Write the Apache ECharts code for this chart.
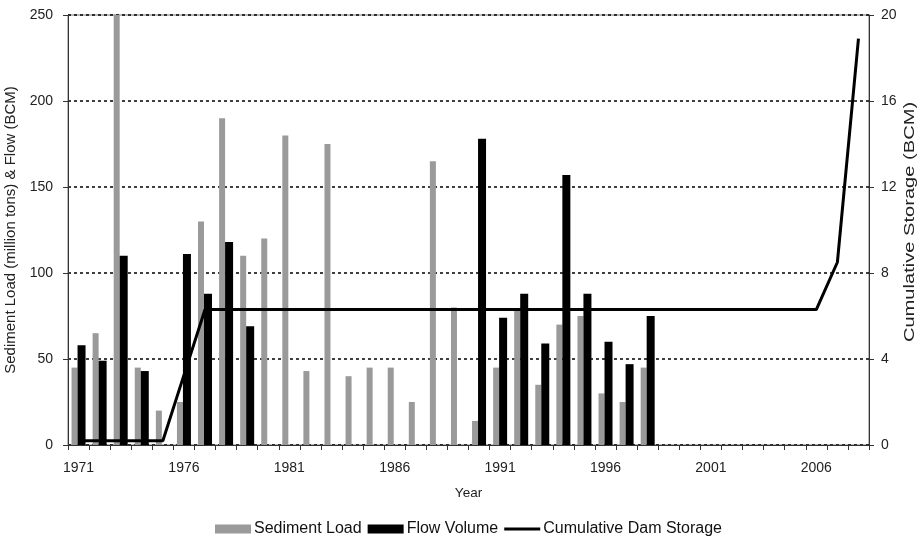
<!DOCTYPE html>
<html>
<head>
<meta charset="utf-8">
<script src="https://cdn.jsdelivr.net/npm/echarts@6/dist/echarts.min.js"></script>
<style>
  html, body { margin: 0; padding: 0; background: #fff; }
  #chart { width: 917px; height: 538px; }
</style>
</head>
<body>
<div id="chart"></div>
<script>
// years 1971 - 2008
var years = [];
for (var y = 1971; y <= 2008; y++) years.push(String(y));

// sediment load (million tons), 1971-1998
var sediment = [45, 65, 250, 45, 20, 25, 130, 190, 110, 120,
                180, 43, 175, 40, 45, 45, 25, 165, 80, 14,
                45, 79, 35, 70, 75, 30, 25, 45,
                null, null, null, null, null, null, null, null, null, null];

// flow volume (BCM)
var flow = [58, 49, 110, 43, null, 111, 88, 118, 69, null,
            null, null, null, null, null, null, null, null, null, 178,
            74, 88, 59, 157, 88, 60, 47, 75,
            null, null, null, null, null, null, null, null, null, null];

// cumulative dam storage (BCM)
var storage = [0.2, 0.2, 0.2, 0.2, 0.2, 3.25, 6.3, 6.3, 6.3, 6.3,
               6.3, 6.3, 6.3, 6.3, 6.3, 6.3, 6.3, 6.3, 6.3, 6.3,
               6.3, 6.3, 6.3, 6.3, 6.3, 6.3, 6.3, 6.3, 6.3, 6.3,
               6.3, 6.3, 6.3, 6.3, 6.3, 6.3, 8.5, 18.9];

var chart = echarts.init(document.getElementById('chart'));
var font = 'Liberation Sans, Arial, sans-serif';
var dotted = { color: '#000', width: 1.5, type: [3, 3] };

var option = {
  animation: false,
  textStyle: { fontFamily: font },
  grid: {
    left: 68, right: 48, top: 15, bottom: 93,
    outerBoundsMode: 'none',
    show: true, borderColor: '#777', borderWidth: 1
  },
  legend: {
    top: 521,
    left: 215,
    padding: 0,
    itemGap: 6,
    itemWidth: 36,
    itemHeight: 9,
    textStyle: { fontSize: 16, color: '#111', fontFamily: font, padding: [0, 0, 0, -2] },
    data: [
      { name: 'Sediment Load', icon: 'rect' },
      { name: 'Flow Volume', icon: 'rect' },
      { name: 'Cumulative Dam Storage', icon: 'path://M0,0 H37 V3 H0 Z' }
    ]
  },
  graphic: [
    {
      type: 'text',
      x: 910, y: 222,
      rotation: Math.PI / 2,
      scaleX: 1.34,
      style: {
        text: 'Cumulative Storage (BCM)',
        font: '15px ' + font,
        fill: '#222',
        align: 'center',
        verticalAlign: 'middle'
      }
    }
  ],
  xAxis: {
    type: 'category',
    data: years,
    name: 'Year',
    nameLocation: 'middle',
    nameGap: 41,
    nameTextStyle: { fontSize: 13.5, color: '#222' },
    axisLine: { lineStyle: { color: '#333', width: 1 } },
    axisTick: { show: true, interval: 0, length: 5, lineStyle: { color: '#333' } },
    axisLabel: { interval: 4, fontSize: 14, color: '#222', margin: 16 }
  },
  yAxis: [
    {
      type: 'value',
      min: 0, max: 250, interval: 50,
      name: 'Sediment Load (million tons) & Flow (BCM)',
      nameLocation: 'middle',
      nameRotate: 90,
      nameGap: 44,
      nameTextStyle: { fontSize: 15, color: '#222' },
      axisLine: { show: true, lineStyle: { color: '#333' } },
      axisTick: { show: true, length: 5, lineStyle: { color: '#333' } },
      axisLabel: { fontSize: 14, color: '#222', margin: 15 },
      splitLine: { show: true, lineStyle: dotted }
    },
    {
      type: 'value',
      min: 0, max: 20, interval: 4,
      position: 'right',
      axisLine: { show: true, lineStyle: { color: '#333' } },
      axisTick: { show: true, length: 5, lineStyle: { color: '#333' } },
      axisLabel: { fontSize: 14, color: '#222', margin: 12 },
      splitLine: { show: false }
    }
  ],
  series: [
    {
      name: 'Sediment Load',
      type: 'bar',
      data: sediment,
      barWidth: 6,
      barGap: '0%',
      itemStyle: { color: '#9a9a9a' }
    },
    {
      name: 'Flow Volume',
      type: 'bar',
      data: flow,
      barWidth: 8,
      barGap: '0%',
      itemStyle: { color: '#000' }
    },
    {
      name: 'Cumulative Dam Storage',
      type: 'line',
      yAxisIndex: 1,
      data: storage,
      symbol: 'none',
      lineStyle: { color: '#000', width: 3 },
      itemStyle: { color: '#000' },
      z: 5
    }
  ]
};
chart.setOption(option);
</script>
</body>
</html>
